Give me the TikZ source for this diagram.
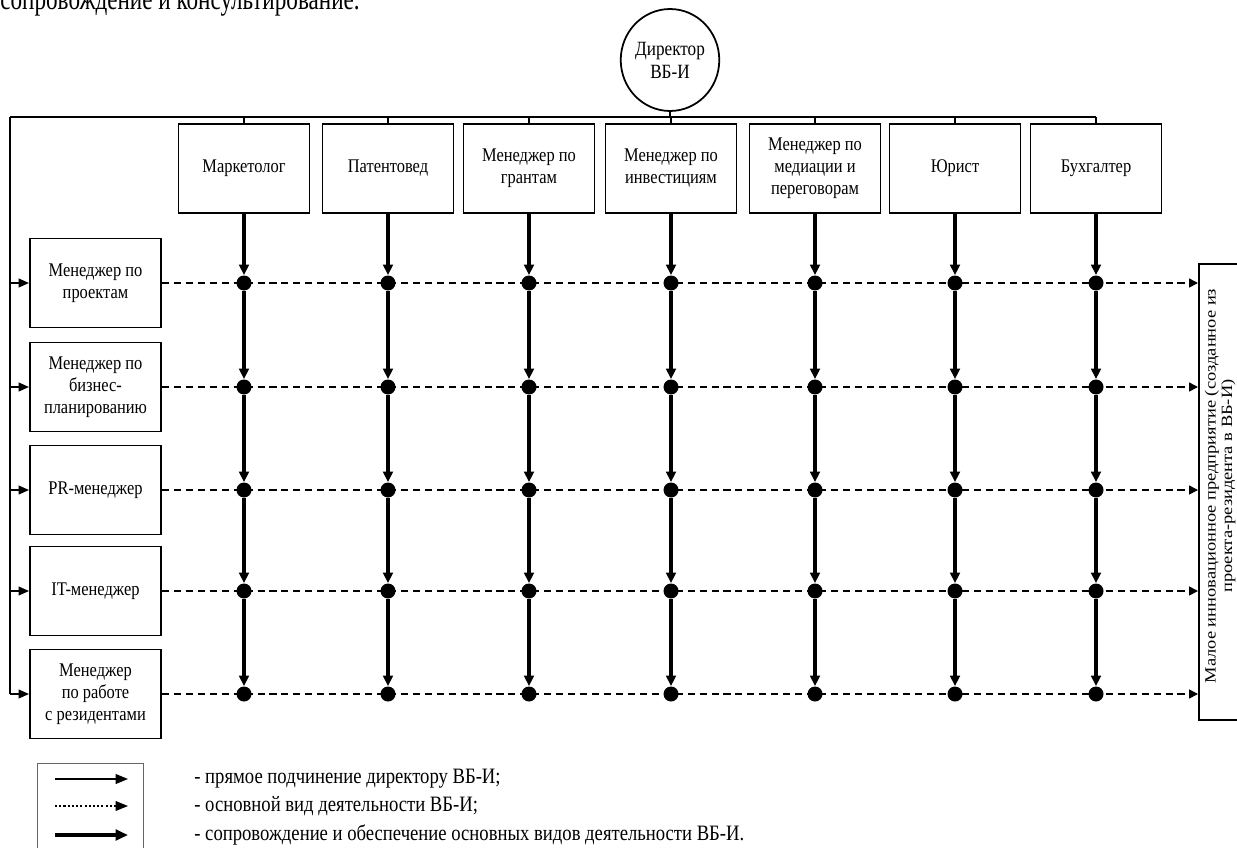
\documentclass[tikz,border=0pt]{standalone}
\usepackage{fontspec}
\setmainfont[FakeStretch=0.85]{Liberation Serif}
\newfontfamily\plainserif{Liberation Serif}
\usetikzlibrary{arrows.meta,shapes.geometric}
\begin{document}
\begin{tikzpicture}[x=0.02cm,y=-0.02cm,
  box/.style={draw,line width=1.1pt,minimum width=2.62cm,minimum height=1.78cm,align=center,inner sep=2pt,font=\fontsize{11}{12.5}\selectfont},
  dot/.style={circle,fill,inner sep=0pt,minimum size=0.3cm},
  orgline/.style={line width=1pt},
  directarrow/.style={line width=1pt,-{Triangle[length=6pt,width=5pt]}},
  thickarrow/.style={line width=1.9pt,-{Triangle[length=6pt,width=5.5pt]}},
  dasharrow/.style={line width=0.9pt,dash pattern=on 4pt off 2.8pt,-{Triangle[length=5pt,width=5pt]}},
  legendtext/.style={anchor=west,inner sep=0pt,font=\fontsize{12.5}{15}\selectfont}
]
\useasboundingbox (0,0) rectangle (1237,848);

% cut-off text line at the top
\node[anchor=base west,inner sep=0pt,yscale=1.15,font=\fontsize{15.5}{18}\selectfont] (toptext) at (0,10) {сопровождение и консультирование.};

% director
\node[ellipse,draw,line width=1pt,minimum width=1.78cm,minimum height=2.04cm,inner sep=0pt,align=center,font=\fontsize{11.5}{13}\selectfont] (dir) at (670,60) {Директор\\ВБ-И};

% top boxes
\node[box] (t1) at (244,168.5) {Маркетолог};
\node[box] (t2) at (388,168.5) {Патентовед};
\node[box] (t3) at (529,168.5) {Менеджер по\\грантам};
\node[box] (t4) at (671,168.5) {Менеджер по\\инвестициям};
\node[box] (t5) at (815,168.5) {Менеджер по\\медиации и\\переговорам};
\node[box] (t6) at (955,168.5) {Юрист};
\node[box] (t7) at (1096,168.5) {Бухгалтер};

% left boxes
\node[box] (l1) at (95.5,283) {Менеджер по\\проектам};
\node[box] (l2) at (95.5,387) {Менеджер по\\бизнес-\\планированию};
\node[box] (l3) at (95.5,490) {PR-менеджер};
\node[box] (l4) at (95.5,591) {IT-менеджер};
\node[box] (l5) at (95.5,694) {Менеджер\\по работе\\с резидентами};

% right box
\node[draw,line width=1.1pt,minimum width=1.04cm,minimum height=9.12cm,anchor=north west,inner sep=0pt] (R) at (1198,263) {};
\node[rotate=90,yscale=0.85,align=center,inner sep=0pt,font=\plainserif\fontsize{10.5}{11}\selectfont] (Rtext) at (1220,486) {Малое инновационное предприятие (созданное из\\проекта-резидента в ВБ-И)};

% bus
\coordinate (busL) at (10,117);
\draw[orgline] (dir.south) -- (dir.south |- busL);
\draw[orgline] (busL) -- (t7.north |- busL);
\foreach \c in {1,...,7} {
  \draw[orgline] (t\c.north |- busL) -- (t\c.north);
}
\draw[orgline] (busL) -- (busL |- l5.west);
\foreach \r in {1,...,5} {
  \draw[directarrow] (busL |- l\r.west) -- (l\r.west);
}

% dashed main activity lines
\foreach \r in {1,...,5} {
  \draw[dasharrow] (l\r.east) -- (l\r.east -| R.west);
}

% dots
\foreach \c in {1,...,7} {
  \foreach \r in {1,...,5} {
    \node[dot] (d\c\r) at (t\c.south |- l\r.east) {};
  }
}

% thick support lines
\foreach \c in {1,...,7} {
  \draw[thickarrow] (t\c.south) -- (d\c1.north);
  \draw[thickarrow] (d\c1.south) -- (d\c2.north);
  \draw[thickarrow] (d\c2.south) -- (d\c3.north);
  \draw[thickarrow] (d\c3.south) -- (d\c4.north);
  \draw[thickarrow] (d\c4.south) -- (d\c5.north);
}

% legend
\node[draw=black!60,line width=0.7pt,minimum width=2.12cm,minimum height=2.2cm,anchor=north west,inner sep=0pt] (legbox) at (37,763) {};
\coordinate (la1) at (55,779);  \coordinate (lb1) at (128,779);
\coordinate (la2) at (55,806);  \coordinate (lb2) at (128,806);
\coordinate (la3) at (55,835);  \coordinate (lb3) at (128,835);
\draw[line width=1pt,-{Triangle[length=7pt,width=5.5pt]}] (la1) -- (lb1);
\draw[line width=0.7pt,dash pattern=on 1.2pt off 1.2pt,-{Triangle[length=7pt,width=5.5pt]}] (la2) -- (lb2);
\draw[line width=1.9pt,-{Triangle[length=7pt,width=6pt]}] (la3) -- (lb3);
\node[legendtext] (lt1) at (194,779) {- прямое подчинение директору ВБ-И;};
\node[legendtext] (lt2) at (194,806) {- основной вид деятельности ВБ-И;};
\node[legendtext] (lt3) at (194,835) {- сопровождение и обеспечение основных видов деятельности ВБ-И.};
\end{tikzpicture}
\end{document}
